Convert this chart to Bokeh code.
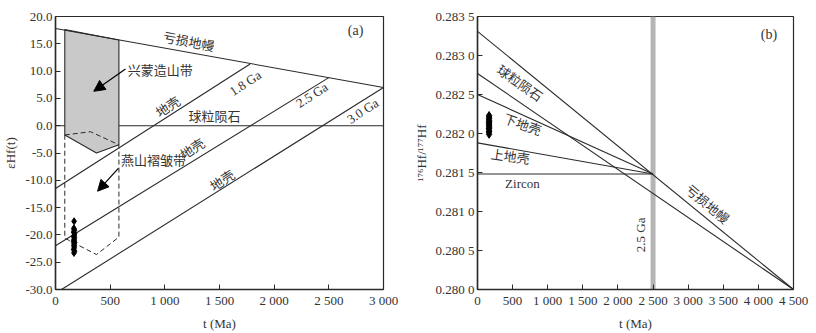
from bokeh.plotting import figure
from bokeh.layouts import row
from bokeh.models import FixedTicker, Arrow, NormalHead
from bokeh.core.properties import value
from bokeh.embed import file_html
from bokeh.resources import INLINE

# ---------------- data: panel (a) ----------------
a_xticks = [0, 500, 1000, 1500, 2000, 2500, 3000]
a_xlabels = ["0", "500", "1 000", "1 500", "2 000", "2 500", "3 000"]
a_yticks = [-30, -25, -20, -15, -10, -5, 0, 5, 10, 15, 20]
a_ylabels = ["-30.0", "-25.0", "-20.0", "-15.0", "-10.0", "-5.0", "0.0", "5.0", "10.0", "15.0", "20.0"]

dm_t = [0, 3000]
dm_eps = [17.8, 7.0]
chur_t = [0, 3000]
chur_eps = [0.0, 0.0]
c18_t = [0, 1780]
c18_eps = [-11.5, 11.3]
c25_t = [0, 2500]
c25_eps = [-22.0, 8.8]
c30_t = [55, 3000]
c30_eps = [-30.0, 7.0]

xm_t = [85, 580, 580, 375, 85]
xm_eps = [17.6, 15.7, -3.5, -5.0, -1.7]
ys_t = [85, 320, 580, 580, 375, 85, 85]
ys_eps = [-1.7, -1.1, -3.5, -20.4, -23.6, -20.6, -1.7]

pts_a_t = [170, 168, 172, 166, 174, 170, 167, 173, 169, 171, 165, 175, 170, 168, 172, 170, 166, 174, 169, 171]
pts_a_eps = [-17.5, -18.8, -19.2, -19.5, -19.8, -20.1, -20.3, -20.5, -20.8, -21.0,
             -21.2, -21.4, -21.6, -21.9, -22.1, -22.4, -22.7, -23.0, -23.3, -19.0]

# ---------------- data: panel (b) ----------------
b_xticks = [0, 500, 1000, 1500, 2000, 2500, 3000, 3500, 4000, 4500]
b_xlabels = ["0", "500", "1 000", "1 500", "2 000", "2 500", "3 000", "3 500", "4 000", "4 500"]
b_yticks = [0.2800, 0.2805, 0.2810, 0.2815, 0.2820, 0.2825, 0.2830, 0.2835]
b_ylabels = ["0.280 0", "0.280 5", "0.281 0", "0.281 5", "0.282 0", "0.282 5", "0.283 0", "0.283 5"]

bdm_t = [0, 4500]
bdm_hf = [0.28331, 0.28000]
bchur_t = [0, 4500]
bchur_hf = [0.28277, 0.28000]
lc_t = [0, 2500]
lc_hf = [0.28250, 0.28148]
uc_t = [0, 2500]
uc_hf = [0.28188, 0.28148]
zr_t = [0, 2500]
zr_hf = [0.28148, 0.28148]
age_line = 2500

pts_b_t = [165, 163, 167, 162, 168, 165, 164, 166, 163, 167, 165, 164, 166, 165]
pts_b_hf = [0.28199, 0.28202, 0.28203, 0.28206, 0.28207, 0.28209, 0.28211, 0.28212,
            0.28214, 0.28215, 0.28217, 0.28219, 0.28221, 0.28223]

SERIF = "'Liberation Serif', serif"
FONT = "'Liberation Serif', 'Noto Sans CJK SC', serif"
LC = "#2a2a2a"
TC = "#333333"


def style(p, xt, xl, yt, yl):
    p.xaxis.ticker = FixedTicker(ticks=xt)
    p.yaxis.ticker = FixedTicker(ticks=yt)
    p.xaxis.major_label_overrides = {k: v for k, v in zip(xt, xl)}
    p.yaxis.major_label_overrides = {k: v for k, v in zip(yt, yl)}
    for ax in (p.xaxis, p.yaxis):
        ax.major_tick_in = 5
        ax.major_tick_out = 0
        ax.minor_tick_line_color = None
        ax.axis_line_color = LC
        ax.axis_line_width = 1.5
        ax.major_tick_line_color = LC
        ax.major_label_text_font = SERIF
        ax.major_label_text_font_size = "13px"
        ax.major_label_text_color = TC
        ax.axis_label_text_font = SERIF
        ax.axis_label_text_font_size = "13px"
        ax.axis_label_text_font_style = "normal"
        ax.axis_label_text_color = TC
    p.xaxis.major_label_standoff = 3
    p.yaxis.major_label_standoff = 3
    p.xaxis.axis_label_standoff = 5
    p.yaxis.axis_label_standoff = 4
    p.grid.grid_line_color = None
    p.outline_line_color = LC
    p.outline_line_width = 1.2
    p.background_fill_color = "white"
    p.border_fill_color = "white"


def txt(p, x, y, s, angle=0, size="13px", align="center"):
    p.text(x=[x], y=[y], text=[s], angle=angle, angle_units="deg",
           text_font=value(FONT), text_font_size=size, text_color=TC,
           text_align=align, text_baseline="middle")


# ---------------- panel (a) ----------------
pa = figure(width=410, height=333, x_range=(0, 3000), y_range=(-30, 20),
            output_backend="svg", toolbar_location=None,
            min_border_left=53, min_border_right=27, min_border_top=16, min_border_bottom=40)
style(pa, a_xticks, a_xlabels, a_yticks, a_ylabels)
pa.xaxis.axis_label = "t (Ma)"
pa.yaxis.axis_label = "εHf(t)"

pa.line(chur_t, chur_eps, line_color=LC, line_width=1.1)
pa.patch(xm_t, xm_eps, fill_color="#c9c9c9", line_color=LC, line_width=1.1)
pa.line(ys_t, ys_eps, line_color=LC, line_width=1.0, line_dash="5 3")
pa.line(dm_t, dm_eps, line_color=LC, line_width=1.1)
pa.line(c18_t, c18_eps, line_color=LC, line_width=1.1)
pa.line(c25_t, c25_eps, line_color=LC, line_width=1.1)
pa.line(c30_t, c30_eps, line_color=LC, line_width=1.1)
pa.scatter(pts_a_t, pts_a_eps, marker="diamond", size=7, fill_color="black", line_color="black")

pa.add_layout(Arrow(end=NormalHead(size=11, fill_color="black", line_color="black"),
                    x_start=640, y_start=10.4, x_end=350, y_end=6.3,
                    line_color="black", line_width=1.2))
pa.add_layout(Arrow(end=NormalHead(size=11, fill_color="black", line_color="black"),
                    x_start=575, y_start=-7.8, x_end=385, y_end=-12.0,
                    line_color="black", line_width=1.2))

txt(pa, 1218, 15.3, "亏损地幔", angle=-11)
txt(pa, 660, 10.2, "兴蒙造山带", align="left")
txt(pa, 1736, 7.8, "1.8 Ga", angle=33)
txt(pa, 2345, 5.6, "2.5 Ga", angle=33)
txt(pa, 2810, 2.7, "3.0 Ga", angle=33)
txt(pa, 1030, 3.4, "地壳", angle=33)
txt(pa, 1455, 1.6, "球粒陨石")
txt(pa, 600, -6.3, "燕山褶皱带", align="left")
txt(pa, 1254, -4.3, "地壳", angle=33)
txt(pa, 1527, -10.1, "地壳", angle=33)
txt(pa, 2745, 17.5, "(a)", size="14px")

# ---------------- panel (b) ----------------
pb = figure(width=404, height=333, x_range=(0, 4500), y_range=(0.2800, 0.2835),
            output_backend="svg", toolbar_location=None,
            min_border_left=65, min_border_right=21, min_border_top=15, min_border_bottom=40)
style(pb, b_xticks, b_xlabels, b_yticks, b_ylabels)
pb.xaxis.axis_label = "t (Ma)"
pb.yaxis.axis_label = "¹⁷⁶Hf/¹⁷⁷Hf"

pb.line([age_line, age_line], [0.2800, 0.2835], line_color="#b5b5b5", line_width=5)
pb.line(bdm_t, bdm_hf, line_color=LC, line_width=1.1)
pb.line(bchur_t, bchur_hf, line_color=LC, line_width=1.1)
pb.line(lc_t, lc_hf, line_color=LC, line_width=1.1)
pb.line(uc_t, uc_hf, line_color=LC, line_width=1.1)
pb.line(zr_t, zr_hf, line_color=LC, line_width=1.1)
pb.scatter(pts_b_t, pts_b_hf, marker="diamond", size=8, fill_color="black", line_color="black")

txt(pb, 600, 0.28264, "球粒陨石", angle=-35)
txt(pb, 640, 0.28211, "下地壳", angle=-20)
txt(pb, 465, 0.28170, "上地壳", angle=-8)
txt(pb, 640, 0.28136, "Zircon")
txt(pb, 2320, 0.28070, "2.5 Ga", angle=90)
txt(pb, 3270, 0.28109, "亏损地幔", angle=-40)
txt(pb, 4150, 0.28327, "(b)", size="14px")

layout = row(pa, pb)
open("out.html", "w").write(file_html(layout, INLINE))
